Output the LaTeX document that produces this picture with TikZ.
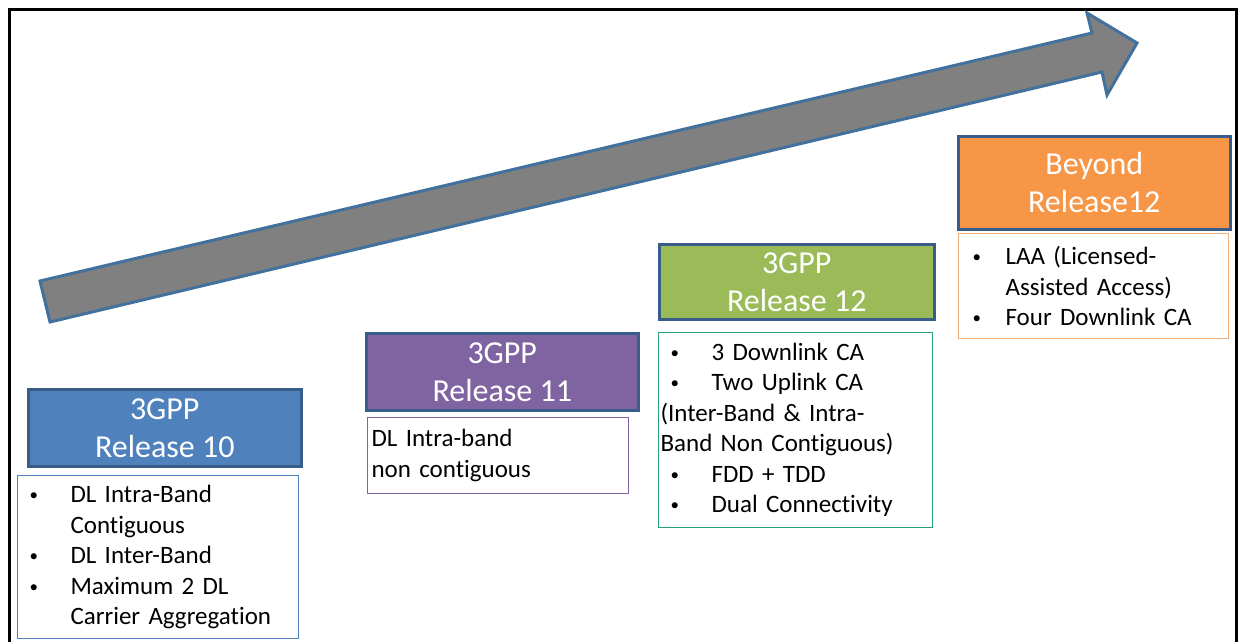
\documentclass[tikz,border=0pt]{standalone}
\usepackage{fontspec}
\setmainfont[RawFeature={-liga}]{Carlito}
\usepackage{xcolor}
\definecolor{relten}{RGB}{79,129,189}
\definecolor{releleven}{RGB}{128,100,162}
\definecolor{reltwelve}{RGB}{155,187,89}
\definecolor{relbeyond}{RGB}{247,150,70}
\definecolor{hdrline}{RGB}{56,93,138}
\definecolor{twelveline}{RGB}{40,160,120}
\definecolor{beyondline}{RGB}{245,175,120}
\definecolor{arrowfill}{RGB}{128,128,128}
\definecolor{arrowline}{RGB}{65,113,156}
\newcommand{\itm}[2][43pt]{\makebox[#1][l]{\hspace{2pt}\raisebox{2pt}{\fontsize{17}{17}\selectfont\textbullet}}#2}

\begin{document}
\begin{tikzpicture}[x=1pt, y=-1pt,
    hdr/.style={draw=hdrline, line width=2.5pt, text=white, align=center,
                anchor=north west, inner sep=0pt,
                font=\fontsize{32}{38}\selectfont},
    body/.style={line width=1.1pt, fill=white, align=left, anchor=north west,
                 inner xsep=10pt, inner ysep=0pt,
                 font=\fontsize{25}{30.5}\selectfont},
    bigarrow/.style={fill=arrowfill, draw=arrowline, line width=3pt,
                     line join=miter}
]
\useasboundingbox (0,0) rectangle (1243,642);
\fill[white] (0,0) rectangle (1243,642);
\draw[line width=3pt] (9,642) -- (9,10) -- (1236,10) -- (1236,642);

\draw[bigarrow] (40,281) -- (1092,33) -- (1087,13) -- (1137,43)
    -- (1107,95) -- (1102,72) -- (50,322) -- cycle;

\node[hdr, fill=relten, minimum width=273pt, minimum height=77pt]
    (r10h) at (27,388) {3GPP\\Release 10};
\node[body, draw=relten, minimum width=281pt, minimum height=163pt,
      text width=261pt] (r10b) at (17,475)
    {\itm{DL Intra-Band}\\\hspace*{43pt}Contiguous\\\itm{DL Inter-Band}\\
     \itm{Maximum 2 DL}\\\hspace*{43pt}Carrier Aggregation};

\node[hdr, fill=releleven, minimum width=272pt, minimum height=77pt]
    (r11h) at (365,332) {3GPP\\Release 11};
\node[body, draw=releleven, minimum width=261pt, minimum height=76pt,
      inner xsep=4pt, text width=253pt] (r11b) at (367,417)
    {DL Intra-band\\non contiguous};

\node[hdr, fill=reltwelve, minimum width=275pt, minimum height=75pt]
    (r12h) at (658,243) {3GPP\\Release 12};
\node[body, draw=twelveline, minimum width=274pt, minimum height=195pt,
      text width=254pt] (r12b) at (658,332)
    {\itm{3 Downlink CA}\\\itm{Two Uplink CA}\\
     \hspace*{-8pt}(Inter-Band \& Intra-\\\hspace*{-8pt}Band Non Contiguous)\\
     \itm{FDD + TDD}\\\itm{Dual Connectivity}};

\node[hdr, fill=relbeyond, minimum width=272pt, minimum height=93pt]
    (byh) at (957,135) {Beyond\\Release12};
\node[body, draw=beyondline, minimum width=270pt, minimum height=105pt,
      inner xsep=12pt, text width=246pt] (byb) at (958,233)
    {\itm[35pt]{LAA (Licensed-}\\\hspace*{35pt}Assisted Access)\\
     \itm[35pt]{Four Downlink CA}};
\end{tikzpicture}
\end{document}
